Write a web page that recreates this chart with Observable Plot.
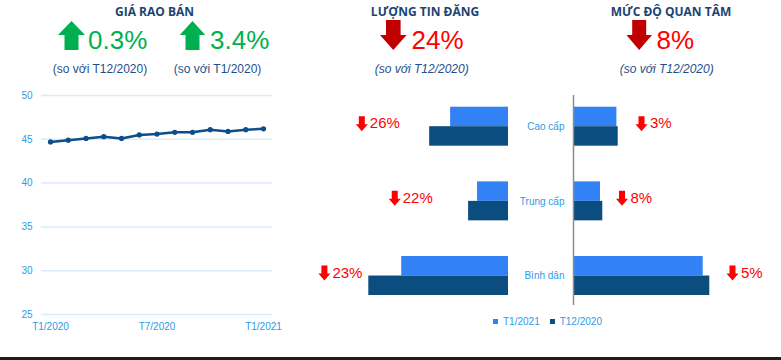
<!DOCTYPE html>
<html>
<head>
<meta charset="utf-8">
<script src="https://cdn.jsdelivr.net/npm/d3@7"></script>
<script src="https://cdn.jsdelivr.net/npm/@observablehq/plot@0.6"></script>
<style>
  html, body { margin: 0; padding: 0; background: #fff; }
  #root { position: relative; width: 781px; height: 360px; overflow: hidden; background: #fff; font-family: "Liberation Sans", Arial, sans-serif; }
  .layer { position: absolute; }
</style>
</head>
<body>
<div id="root"></div>
<script>
// ---------- DATA ----------
const months = ["T1/2020","T2/2020","T3/2020","T4/2020","T5/2020","T6/2020","T7/2020","T8/2020","T9/2020","T10/2020","T11/2020","T12/2020","T1/2021"];
const giaRaoBan = [44.7, 44.9, 45.1, 45.3, 45.1, 45.5, 45.6, 45.8, 45.8, 46.1, 45.9, 46.1, 46.2];
const yTicks = [25, 30, 35, 40, 45, 50];
const xTicks = ["T1/2020", "T7/2020", "T1/2021"];

const segments = ["Cao cấp", "Trung cấp", "Bình dân"];
const periods = ["T1/2021", "T12/2020"];
const tinDangT1 = [58, 31, 107];
const tinDangT12 = [79, 40, 140];
const quanTamT1 = [43.4, 27, 129.7];
const quanTamT12 = [44.7, 29.3, 136.3];
const tinDangChange = ["26%", "22%", "23%"];
const quanTamChange = ["3%", "8%", "5%"];

const headerTitles = ["GIÁ RAO BÁN", "LƯỢNG TIN ĐĂNG", "MỨC ĐỘ QUAN TÂM"];
const kpiValues = ["0.3%", "3.4%", "24%", "8%"];
const kpiNotes = ["(so với T12/2020)", "(so với T1/2020)", "(so với T12/2020)", "(so với T12/2020)"];

// ---------- STYLE ----------
const font = "'Liberation Sans', Arial, sans-serif";
const labelColor = "#2f9ae8";
const gridColor = "#dcebf8";
const lineColor = "#0d4d8a";
const lightBar = "#3282f6";
const darkBar = "#0b4d7e";
const red = "#ff0000";
const darkRed = "#c00000";
const green = "#00b050";
const titleColor = "#1b4472";
const noteColor = "#1f4f8a";
const leftGaps = [68, 74, 44.5];     // annotation offsets (value units)
const rightGaps = [23.3, 19.2, 22.7];

const root = document.getElementById("root");
function place(el, left, top) {
  el.classList.add("layer");
  el.style.left = left + "px";
  el.style.top = top + "px";
  root.appendChild(el);
  return el;
}

const arrowDown = {
  draw(ctx, size) {
    const r = Math.sqrt(size / Math.PI);
    const w = r * 0.8, sw = r * 0.4, hy = r * 0.07;
    ctx.moveTo(-sw, -r); ctx.lineTo(sw, -r); ctx.lineTo(sw, hy); ctx.lineTo(w, hy);
    ctx.lineTo(0, r); ctx.lineTo(-w, hy); ctx.lineTo(-sw, hy); ctx.closePath();
  }
};

// ---------- LINE CHART ----------
const lineData = months.map((m, i) => ({month: m, idx: i, value: giaRaoBan[i]}));
const xTickIdx = xTicks.map(t => months.indexOf(t));
const lineChart = Plot.plot({
  width: 300, height: 340,
  marginLeft: 41, marginRight: 28, marginTop: 95, marginBottom: 26,
  style: {background: "transparent", overflow: "visible", fontFamily: font},
  x: {domain: [0, months.length - 1], range: [50, 263], label: null, axis: null},
  y: {domain: [25, 50], label: null, axis: null},
  marks: [
    Plot.gridY(yTicks, {stroke: gridColor, strokeOpacity: 1, strokeWidth: 1.5}),
    Plot.axisY(yTicks, {tickSize: 0, tickPadding: 9, color: labelColor, fontSize: 10, label: null}),
    Plot.axisX(xTickIdx, {tickSize: 0, tickPadding: 8, color: labelColor, fontSize: 10, label: null, tickFormat: i => months[i]}),
    Plot.lineY(lineData, {x: "idx", y: "value", stroke: lineColor, strokeWidth: 2.5}),
    Plot.dot(lineData, {x: "idx", y: "value", r: 2.6, fill: lineColor})
  ]
});
place(lineChart, 0, 0);

// ---------- BAR CHARTS ----------
const yBand = {domain: segments, range: [106.7, 295], paddingInner: 0.478, paddingOuter: 0, round: false, label: null, axis: null};
const half = 19.5;

const tinRows = segments.map((s, i) => ({segment: s, t1: tinDangT1[i], t12: tinDangT12[i], change: tinDangChange[i], lx: tinDangT12[i] + leftGaps[i]}));
const leftChart = Plot.plot({
  width: 220, height: 340,
  marginLeft: 0, marginRight: 0, marginTop: 95, marginBottom: 35,
  style: {background: "transparent", overflow: "visible", fontFamily: font},
  x: {domain: [0, 140], range: [208, 68.3], axis: null, label: null},
  y: yBand,
  marks: [
    Plot.barX(tinRows, {y: "segment", x: "t1", fill: lightBar, insetBottom: half}),
    Plot.barX(tinRows, {y: "segment", x: "t12", fill: darkBar, insetTop: half}),
    Plot.dot(tinRows, {x: "lx", y: "segment", symbol: arrowDown, r: 7.5, fill: red, dy: -3}),
    Plot.text(tinRows, {x: "lx", y: "segment", text: "change", dx: 8, dy: -3, textAnchor: "start", fill: red, fontSize: 15})
  ]
});
place(leftChart, 300, 0);

const qtRows = segments.map((s, i) => ({segment: s, t1: quanTamT1[i], t12: quanTamT12[i], change: quanTamChange[i], lx: quanTamT12[i] + rightGaps[i]}));
const rightChart = Plot.plot({
  width: 271, height: 340,
  marginLeft: 63, marginRight: 0, marginTop: 95, marginBottom: 35,
  style: {background: "transparent", overflow: "visible", fontFamily: font},
  x: {domain: [0, 140], range: [63, 203], axis: null, label: null},
  y: yBand,
  marks: [
    Plot.barX(qtRows, {y: "segment", x: "t1", fill: lightBar, insetBottom: half}),
    Plot.barX(qtRows, {y: "segment", x: "t12", fill: darkBar, insetTop: half}),
    Plot.ruleX([0], {stroke: "#8c8c8c", strokeWidth: 1.5}),
    Plot.axisY({tickSize: 0, tickPadding: 9, color: labelColor, fontSize: 10, label: null}),
    Plot.dot(qtRows, {x: "lx", y: "segment", symbol: arrowDown, r: 7.5, fill: red, dy: -3}),
    Plot.text(qtRows, {x: "lx", y: "segment", text: "change", dx: 8.5, dy: -3, textAnchor: "start", fill: red, fontSize: 15})
  ]
});
place(rightChart, 510, 0);

// ---------- LEGEND ----------
const legend = Plot.legend({
  color: {type: "ordinal", domain: periods, range: [lightBar, darkBar]},
  swatchSize: 5,
  style: {fontFamily: font, fontSize: "10px", color: labelColor, background: "transparent"}
});
place(legend, 493, 305);

// ---------- HEADER ----------
const header = d3.create("svg").attr("width", 781).attr("height", 85);
function arrow(g, cx, top, bottom, hw, sw, head, up, color) {
  let pts;
  if (up) {
    const hb = top + head;
    pts = [[cx, top], [cx + hw, hb], [cx + sw, hb], [cx + sw, bottom], [cx - sw, bottom], [cx - sw, hb], [cx - hw, hb]];
  } else {
    const hb = bottom - head;
    pts = [[cx - sw, top], [cx + sw, top], [cx + sw, hb], [cx + hw, hb], [cx, bottom], [cx - hw, hb], [cx - sw, hb]];
  }
  g.append("polygon").attr("points", pts.map(p => p.join(",")).join(" ")).attr("fill", color);
}
const titleX = [154.5, 425, 671];
headerTitles.forEach((t, i) => {
  header.append("text").attr("x", titleX[i]).attr("y", 16).attr("text-anchor", "middle")
    .attr("font-family", "'Open Sans', sans-serif").attr("font-weight", 700).attr("font-size", 12)
    .attr("fill", titleColor).text(t);
});
arrow(header, 71.5, 21, 50, 13.5, 7, 14, true, green);
arrow(header, 192.5, 21, 50, 12.8, 7, 14, true, green);
arrow(header, 393.3, 20, 50, 13.3, 7.3, 15, false, darkRed);
arrow(header, 639.2, 20, 50, 12.8, 7, 15, false, darkRed);
const kpiX = [88, 210, 411.5, 656.5];
const kpiColor = [green, green, red, red];
kpiValues.forEach((v, i) => {
  header.append("text").attr("x", kpiX[i]).attr("y", 49.3).attr("font-family", font)
    .attr("font-size", 26).attr("fill", kpiColor[i]).text(v);
});
const noteX = [100, 217.5, 421.7, 666.7];
kpiNotes.forEach((n, i) => {
  header.append("text").attr("x", noteX[i]).attr("y", 73).attr("text-anchor", "middle")
    .attr("font-family", font).attr("font-size", 12).attr("fill", noteColor)
    .attr("font-style", i >= 2 ? "italic" : "normal").text(n);
});
place(header.node(), 0, 0);

// bottom strip
const strip = document.createElement("div");
strip.style.width = "781px"; strip.style.height = "3px"; strip.style.background = "#1e1e1e";
place(strip, 0, 357);
</script>
</body>
</html>
